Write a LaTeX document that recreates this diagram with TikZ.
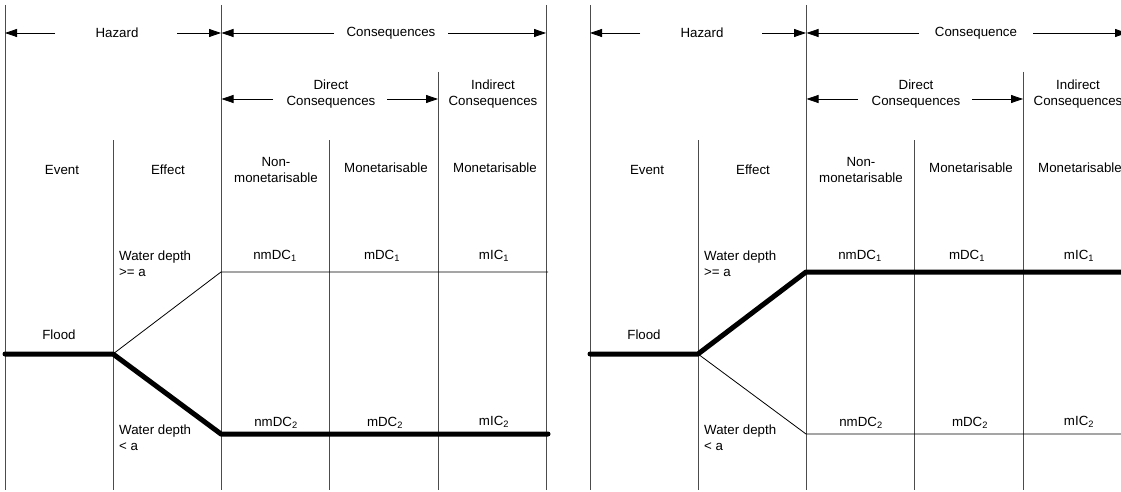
\documentclass[tikz,border=0pt]{standalone}
\usepackage{fontspec}
\setmainfont{Liberation Sans}
\usetikzlibrary{arrows.meta}
\newcommand\drawpanel[4]{%
\begin{scope}[xshift=#1pt, name prefix=#3-]
 \draw[grid] (5,5) -- (5,490);
 \draw[grid] (113,140) -- (113,490);
 \draw[grid] (221,5) -- (221,490);
 \draw[grid] (329,140) -- (329,490);
 \draw[grid] (438,72) -- (438,490);
 \draw[grid] (#4,5) -- (#4,490);
 \coordinate (vA) at (5,33);
 \coordinate (vB) at (221,33);
 \coordinate (vC) at (#4,33);
 \coordinate (vD) at (221,99);
 \coordinate (vE) at (438,99);
 \coordinate (sA) at (55,33);
 \coordinate (sB) at (177,33);
 \coordinate (sC) at (334,33);
 \coordinate (sD) at (448,33);
 \coordinate (sE) at (273,99);
 \coordinate (sF) at (387,99);
 \node[lbl] (hz) at (117,33) {Hazard};
 \draw[dim] (sA) -- (vA);
 \draw[dim] (sB) -- (vB);
 \node[lbl] (cq) at (391,33) {#2};
 \draw[dim] (sC) -- ([xshift=0.5pt]vB);
 \draw[dim] (sD) -- (vC);
 \node[lbl] (dc) at (331,94) {Direct\\Consequences};
 \draw[dim] (sE) -- ([xshift=0.5pt]vD);
 \draw[dim] (sF) -- (vE);
 \node[lbl] (ic) at (493,94) {Indirect\\Consequences};
 \node[lbl] (ev) at (62,170) {Event};
 \node[lbl] (ef) at (168,170) {Effect};
 \node[lbl] (nm) at (276,170) {Non-\\monetarisable};
 \node[lbl] (m1) at (386,168) {Monetarisable};
 \node[lbl] (m2) at (495,168) {Monetarisable};
 \node[lbl, anchor=west, align=left] (w1) at (119,263.5) {Water depth\\>= a};
 \node[lbl] (n1) at (275,256) {nmDC\textsubscript{1}};
 \node[lbl] (d1) at (382,256) {mDC\textsubscript{1}};
 \node[lbl] (i1) at (494,256) {mIC\textsubscript{1}};
 \node[lbl] (fd) at (59,335) {Flood};
 \node[lbl, anchor=west, align=left] (w2) at (119,437.5) {Water depth\\< a};
 \node[lbl] (n2) at (276,423) {nmDC\textsubscript{2}};
 \node[lbl] (d2) at (385,423) {mDC\textsubscript{2}};
 \node[lbl] (i2) at (494,422) {mIC\textsubscript{2}};
 \coordinate (f0) at (5,354);
 \coordinate (f1) at (113,354);
 \coordinate (up) at (221,272);
 \coordinate (dn) at (221,434);
 \coordinate (upE) at (548,272);
 \coordinate (dnE) at (548,434);
\end{scope}}
\begin{document}
\begin{tikzpicture}[x=1pt,y=-1pt,
  grid/.style={draw=black!70, line width=0.8pt},
  dim/.style={draw=black, line width=0.8pt, -{Triangle[length=12pt,width=8pt]}},
  lbl/.style={font=\fontsize{13.3}{16.5}\selectfont, inner sep=0pt, align=center},
  heavy/.style={line width=5pt, line cap=round, line join=round},
  light/.style={line width=0.8pt}]
\useasboundingbox (0,0) rectangle (1121,492);
\clip (0,0) rectangle (1121,492);
\fill[white] (0,0) rectangle (1121,492);
\drawpanel{0}{Consequences}{L}{546}
\drawpanel{585}{Consequence}{R}{542}
\draw[light] (L-f1) -- (L-up) -- (L-upE);
\draw[heavy] (L-f0) -- (L-f1) -- (L-dn) -- (L-dnE);
\draw[light] (R-f1) -- (R-dn) -- ([xshift=30pt]R-dnE);
\draw[heavy] (R-f0) -- (R-f1) -- (R-up) -- ([xshift=30pt]R-upE);
\end{tikzpicture}
\end{document}
